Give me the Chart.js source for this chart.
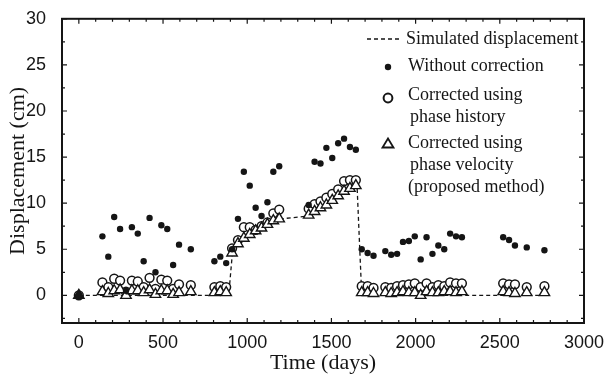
<!DOCTYPE html>
<html>
<head>
<meta charset="utf-8">
<script src="https://cdn.jsdelivr.net/npm/chart.js@4/dist/chart.umd.min.js"></script>
<style>
  html, body { margin: 0; padding: 0; background: #fff; }
  #wrap { width: 608px; height: 377px; }
</style>
</head>
<body>
<div id="wrap"><canvas id="chart"></canvas></div>
<script>
// acquisition dates (days)
var days = [0, 140, 175, 210, 245, 280, 315, 350, 385, 420, 455, 490, 525, 560, 595, 665,
            805, 840, 875, 910, 945, 980, 1015, 1050, 1085, 1120, 1155, 1190,
            1365, 1400, 1435, 1470, 1505, 1540, 1575, 1610, 1645,
            1680, 1715, 1750, 1820, 1855, 1890, 1925, 1960, 1995, 2030, 2065, 2100, 2135, 2170, 2205, 2240, 2275,
            2520, 2555, 2590, 2660, 2765];

var withoutCorrection = [0, 6.4, 4.2, 8.5, 7.2, 0.5, 7.4, 6.7, 3.7, 8.4, 2.5, 7.6, 7.2, 3.3, 5.5, 5.0,
                         3.7, 4.2, 3.5, 5.0, 8.3, 13.4, 11.9, 9.5, 8.6, 10.1, 13.4, 14.0,
                         9.8, 14.5, 14.3, 16.0, 14.9, 16.5, 17.0, 16.1, 15.8,
                         5.0, 4.6, 4.3, 4.8, 4.4, 4.5, 5.8, 5.9, 6.4, 3.9, 6.3, 4.5, 5.4, 5.0, 6.7, 6.4, 6.3,
                         6.3, 6.0, 5.4, 5.2, 4.9];

var phaseHistory = [0, 1.4, 0.9, 1.8, 1.6, 0.4, 1.6, 1.5, 0.9, 1.9, 0.7, 1.7, 1.6, 0.7, 1.2, 1.1,
                    0.9, 1.0, 0.9, 5.1, 6.0, 7.4, 7.4, 7.1, 7.5, 7.9, 8.9, 9.3,
                    9.4, 9.9, 10.2, 10.6, 11.0, 11.5, 12.4, 12.5, 12.5,
                    1.0, 1.0, 0.8, 0.9, 0.8, 1.0, 1.1, 1.2, 1.3, 0.9, 1.3, 0.9, 1.1, 1.0, 1.4, 1.3, 1.3,
                    1.3, 1.2, 1.2, 0.9, 1.0];

var phaseVelocity = [0, 0.4, 0.2, 0.5, 0.6, 0.0, 0.5, 0.5, 0.3, 0.6, 0.1, 0.5, 0.5, 0.1, 0.3, 0.4,
                     0.3, 0.4, 0.3, 4.6, 5.6, 6.2, 6.6, 7.0, 7.3, 7.7, 8.1, 8.3,
                     8.7, 9.1, 9.5, 9.8, 10.3, 10.8, 11.3, 11.6, 11.9,
                     0.3, 0.3, 0.2, 0.3, 0.2, 0.3, 0.4, 0.3, 0.3, 0.0, 0.4, 0.3, 0.3, 0.4, 0.4, 0.3, 0.4,
                     0.4, 0.3, 0.2, 0.3, 0.3];

// simulated displacement (dashed line vertices)
var simDays = [0, 890, 912, 945, 1000, 1050, 1100, 1150, 1200, 1365, 1400, 1450, 1500, 1550, 1600, 1652, 1680, 2770];
var simDisp = [0, 0, 4.6, 5.6, 6.4, 7.0, 7.5, 8.0, 8.3, 8.6, 9.1, 9.6, 10.2, 10.9, 11.5, 12.0, 0, 0];

var xTicks = [0, 500, 1000, 1500, 2000, 2500, 3000];
var yTicks = [0, 5, 10, 15, 20, 25, 30];

function pts( xs, ys ) {
    return xs.map( function( x, i ) { return { x: x, y: ys[i] }; } );
}

var ink = '#151515';
var serif = '"Liberation Serif", "Times New Roman", serif';
var sans = '"Liberation Sans", Arial, sans-serif';

// box + inward ticks on all four sides
var frame = {
    id: 'frame',
    afterDraw: function( chart ) {
        var ctx = chart.ctx, a = chart.chartArea;
        var xs = chart.scales.x, ys = chart.scales.y;
        ctx.save();
        ctx.strokeStyle = ink;
        ctx.lineWidth = 1.2;
        ctx.beginPath();
        for ( var d = 0; d <= 3000; d += 100 ) {
            var px = xs.getPixelForValue( d );
            var len = d % 500 === 0 ? 5 : 3;
            ctx.moveTo( px, a.bottom ); ctx.lineTo( px, a.bottom - len );
            ctx.moveTo( px, a.top ); ctx.lineTo( px, a.top + len );
        }
        for ( var v = -2.5; v <= 30; v += 2.5 ) {
            var py = ys.getPixelForValue( v );
            var l2 = v % 5 === 0 ? 5 : 3;
            ctx.moveTo( a.left, py ); ctx.lineTo( a.left + l2, py );
            ctx.moveTo( a.right, py ); ctx.lineTo( a.right - l2, py );
        }
        ctx.stroke();
        ctx.lineWidth = 2;
        ctx.strokeRect( a.left, a.top, a.right - a.left, a.bottom - a.top );
        ctx.restore();
    }
};

// legend in the upper right corner
var legendBox = {
    id: 'legendBox',
    afterDraw: function( chart ) {
        var ctx = chart.ctx;
        ctx.save();
        ctx.fillStyle = ink;
        ctx.strokeStyle = ink;
        ctx.font = '18px ' + serif;
        ctx.textBaseline = 'middle';
        ctx.textAlign = 'left';

        // dashed sample
        ctx.lineWidth = 1.3;
        ctx.setLineDash( [4, 3] );
        ctx.beginPath(); ctx.moveTo( 367, 39 ); ctx.lineTo( 399, 39 ); ctx.stroke();
        ctx.setLineDash( [] );
        ctx.fillText( 'Simulated displacement', 406, 39 );

        // dot
        ctx.beginPath(); ctx.arc( 388, 67, 3.2, 0, Math.PI * 2 ); ctx.fill();
        ctx.fillText( 'Without correction', 408, 66 );

        // circle
        ctx.lineWidth = 2;
        ctx.beginPath(); ctx.arc( 388, 98, 4.4, 0, Math.PI * 2 ); ctx.stroke();
        ctx.fillText( 'Corrected using', 408, 95 );
        ctx.fillText( 'phase history', 410, 117 );

        // triangle
        ctx.lineWidth = 1.8;
        ctx.beginPath();
        ctx.moveTo( 388, 138.5 ); ctx.lineTo( 393.5, 147.5 ); ctx.lineTo( 382.5, 147.5 ); ctx.closePath();
        ctx.stroke();
        ctx.fillText( 'Corrected using', 408, 143 );
        ctx.fillText( 'phase velocity', 410, 165 );
        ctx.fillText( '(proposed method)', 408, 187 );
        ctx.restore();
    }
};

var triFill = days.map( function( d ) { return d === 0 ? ink : '#fff'; } );

new Chart( document.getElementById( 'chart' ), {
    type: 'scatter',
    data: {
        datasets: [
            {
                label: 'Without correction',
                data: pts( days, withoutCorrection ),
                pointStyle: 'circle',
                pointRadius: 3.2,
                pointBackgroundColor: ink,
                pointBorderColor: ink,
                pointBorderWidth: 0
            },
            {
                label: 'Corrected using phase velocity (proposed method)',
                data: pts( days, phaseVelocity ),
                pointStyle: 'triangle',
                pointRadius: 6,
                pointBackgroundColor: triFill,
                pointBorderColor: ink,
                pointBorderWidth: 1.4
            },
            {
                label: 'Corrected using phase history',
                data: pts( days, phaseHistory ),
                pointStyle: 'circle',
                pointRadius: 4.4,
                pointBackgroundColor: '#fff',
                pointBorderColor: ink,
                pointBorderWidth: 1.5
            },
            {
                label: 'Simulated displacement',
                data: pts( simDays, simDisp ),
                showLine: true,
                borderColor: ink,
                borderWidth: 1.3,
                borderDash: [4, 3],
                pointRadius: 0,
                tension: 0
            }
        ]
    },
    options: {
        responsive: true,
        maintainAspectRatio: false,
        animation: false,
        events: [],
        layout: { padding: { top: 15, right: 24, left: 0, bottom: 0 } },
        plugins: {
            legend: { display: false },
            tooltip: { enabled: false }
        },
        scales: {
            x: {
                type: 'linear',
                min: -100,
                max: 3000,
                afterBuildTicks: function( s ) { s.ticks = xTicks.map( function( v ) { return { value: v }; } ); },
                afterFit: function( s ) { s.height = 54; },
                grid: { display: false },
                border: { display: false },
                ticks: {
                    color: ink, padding: 1, maxRotation: 0, font: { family: sans, size: 18 },
                    callback: function( v ) { return String( v ); }
                },
                title: {
                    display: true,
                    text: 'Time (days)',
                    color: ink,
                    font: { family: serif, size: 22 },
                    padding: { top: 0, bottom: 1 }
                }
            },
            y: {
                type: 'linear',
                min: -3,
                max: 30,
                afterBuildTicks: function( s ) { s.ticks = yTicks.map( function( v ) { return { value: v }; } ); },
                afterFit: function( s ) { s.width = 62; },
                grid: { display: false },
                border: { display: false },
                ticks: {
                    color: ink, padding: 8, font: { family: sans, size: 18 },
                    callback: function( v ) { return String( v ); }
                },
                title: {
                    display: true,
                    text: 'Displacement (cm)',
                    color: ink,
                    font: { family: serif, size: 22 },
                    padding: { top: 5, bottom: 0 }
                }
            }
        }
    },
    plugins: [frame, legendBox]
} );
</script>
</body>
</html>
